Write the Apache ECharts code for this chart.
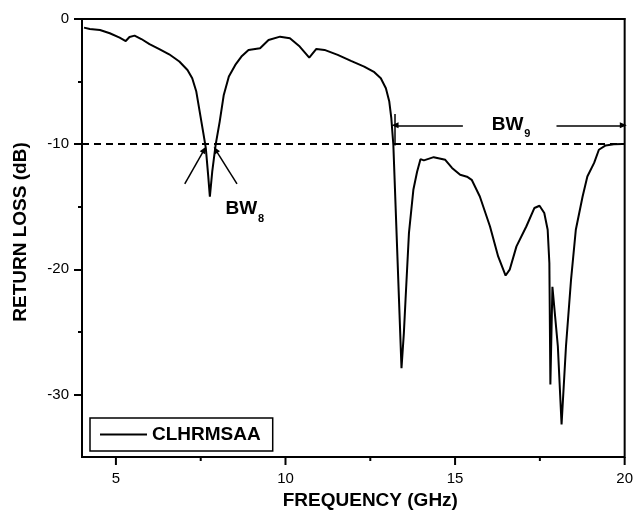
<!DOCTYPE html>
<html>
<head>
<meta charset="utf-8">
<script src="https://cdn.jsdelivr.net/npm/echarts@6/dist/echarts.min.js"></script>
<style>
  html, body { margin: 0; padding: 0; background: #fff; }
  #chart { width: 636px; height: 515px; }
</style>
</head>
<body>
<div id="chart"></div>
<script>
// measured return loss curve (GHz, dB)
const freq = [
  4.06, 4.23, 4.53, 4.82, 5.11, 5.29, 5.40, 5.55, 5.75, 5.99,
  6.28, 6.57, 6.87, 7.11, 7.25, 7.37, 7.47, 7.57, 7.65, 7.72,
  7.77, 7.84, 7.94, 8.06, 8.18, 8.33, 8.52, 8.70, 8.91, 9.25,
  9.50, 9.84, 10.13, 10.42, 10.70, 10.91, 11.15, 11.54, 11.93, 12.32,
  12.62, 12.81, 12.96, 13.06, 13.12, 13.18, 13.42, 13.49, 13.54, 13.64,
  13.77, 13.88, 13.98, 14.08, 14.37, 14.71, 14.91, 15.15, 15.35, 15.49,
  15.73, 16.03, 16.27, 16.49, 16.61, 16.81, 17.10, 17.34, 17.49, 17.63,
  17.73, 17.78, 17.81, 17.87, 18.03, 18.14, 18.27, 18.42, 18.56, 18.76,
  18.90, 19.10, 19.24, 19.44, 19.68, 19.93, 20.0
];
const returnLoss = [
  -0.69, -0.80, -0.88, -1.14, -1.49, -1.76, -1.44, -1.33, -1.60, -2.00,
  -2.40, -2.82, -3.40, -4.07, -4.73, -5.80, -7.40, -9.00, -10.30, -12.5,
  -14.2, -12.2, -10.06, -8.2, -6.07, -4.6, -3.67, -3.0, -2.47, -2.34,
  -1.68, -1.41, -1.54, -2.2, -3.09, -2.39, -2.47, -2.87, -3.35, -3.80,
  -4.25, -4.73, -5.53, -6.6, -7.93, -10.06, -27.9, -25.1, -22.4, -17.1,
  -13.65, -12.2, -11.2, -11.3, -11.04, -11.25, -11.9, -12.45, -12.6, -12.85,
  -14.18, -16.58, -18.97, -20.5, -20.03, -18.17, -16.58, -15.1, -14.92, -15.5,
  -16.84, -19.5, -29.2, -21.4, -26.15, -32.4, -26.15, -20.8, -16.84, -14.18,
  -12.58, -11.5, -10.45, -10.1, -10.0, -9.98, -9.98
];

const xTicks = [5, 10, 15, 20];
const xMinorTicks = [7.5, 12.5, 17.5];
const yTicks = [0, -10, -20, -30];
const yMinorTicks = [-5, -15, -25];
const threshold = -10;

// annotation arrows [from, to] in data units
const bw8Arrows = [
  [[7.03, -13.17], [7.60, -10.45]],
  [[8.57, -13.17], [7.94, -10.45]]
];
const bw9Arrows = [
  [[15.23, -8.5], [13.23, -8.5]],
  [[17.99, -8.5], [19.96, -8.5]]
];
const bw9Bar = [[13.21, -7.6], [13.21, -10.1]];
const bwLabels = [
  { sub: '8', at: [8.23, -15.05] },
  { sub: '9', at: [16.08, -8.3] }
];

const font = 'Liberation Sans, Arial, sans-serif';
const chart = echarts.init(document.getElementById('chart'));

const arrowLine = (seg) => [
  { coord: seg[0], symbol: 'none' },
  { coord: seg[1], symbol: 'triangle', symbolSize: [6, 7] }
];

const gridBox = { left: 82, top: 19, right: 7, bottom: 58 };
const tickStyle = { color: '#000', width: 2 };

chart.setOption({
  animation: false,
  backgroundColor: '#fff',
  grid: [
    Object.assign({ show: true, borderColor: '#000', borderWidth: 2 }, gridBox),
    Object.assign({ show: false }, gridBox)
  ],
  legend: {
    data: [{ name: 'CLHRMSAA', icon: 'rect' }],
    left: 90, top: 418,
    padding: [7, 12, 7, 10],
    borderColor: '#000', borderWidth: 1.5,
    itemWidth: 47, itemHeight: 2,
    itemStyle: { color: '#000' },
    textStyle: { fontFamily: font, fontSize: 19, fontWeight: 'bold', color: '#000' }
  },
  xAxis: [
    {
      gridIndex: 0, type: 'value', min: 4, max: 20, position: 'bottom',
      name: 'FREQUENCY (GHz)', nameLocation: 'middle', nameGap: 34,
      nameTextStyle: { fontFamily: font, fontSize: 19, fontWeight: 'bold', color: '#000', padding: [0, 0, 0, 34] },
      axisLine: { show: true, lineStyle: { color: '#000', width: 2 } },
      axisTick: { show: false },
      axisLabel: { customValues: xTicks, fontFamily: font, fontSize: 15, color: '#000', margin: 14 },
      splitLine: { show: false }
    },
    {
      gridIndex: 1, type: 'value', min: 4, max: 20, position: 'bottom',
      axisLine: { show: false }, axisTick: { show: false },
      axisLabel: { show: false }, splitLine: { show: false }
    }
  ],
  yAxis: [
    {
      gridIndex: 0, type: 'value', min: -35, max: 0, position: 'left',
      name: 'RETURN LOSS (dB)', nameLocation: 'middle', nameGap: 52,
      nameTextStyle: { fontFamily: font, fontSize: 19, fontWeight: 'bold', color: '#000', padding: [0, 0, 0, 12] },
      axisLine: { show: true, lineStyle: { color: '#000', width: 2 } },
      axisTick: { show: true, customValues: yTicks, length: 8, lineStyle: tickStyle },
      axisLabel: { customValues: yTicks, fontFamily: font, fontSize: 15, color: '#000', margin: 13 },
      splitLine: { show: false }
    },
    {
      gridIndex: 1, type: 'value', min: -35, max: 0, position: 'left',
      axisLine: { show: false },
      axisTick: { show: true, customValues: yMinorTicks, length: 4, lineStyle: tickStyle },
      axisLabel: { show: false },
      splitLine: { show: false }
    }
  ],
  series: [
    {
      name: 'CLHRMSAA',
      type: 'line',
      xAxisIndex: 0, yAxisIndex: 0,
      data: freq.map((f, i) => [f, returnLoss[i]]),
      symbol: 'none',
      showSymbol: false,
      lineStyle: { color: '#000', width: 2 },
      itemStyle: { color: '#000' },
      markLine: {
        silent: true,
        symbol: ['none', 'none'],
        label: { show: false },
        lineStyle: { color: '#000', width: 1.5, type: 'solid' },
        data: [
          { yAxis: threshold, lineStyle: { type: [7, 5], width: 2, color: '#000' } },
          ...bw8Arrows.map(arrowLine),
          ...bw9Arrows.map(arrowLine),
          [{ coord: bw9Bar[0] }, { coord: bw9Bar[1] }]
        ]
      }
    },
    {
      name: 'labels',
      type: 'scatter',
      xAxisIndex: 0, yAxisIndex: 0,
      symbolSize: 0,
      silent: true,
      itemStyle: { opacity: 1, color: '#000' },
      data: bwLabels.map((l) => ({ value: l.at, sub: l.sub })),
      label: {
        show: true,
        position: 'right',
        distance: 0,
        formatter: (p) => '{a|BW}{b|' + p.data.sub + '}',
        rich: {
          a: { fontFamily: font, fontSize: 19, fontWeight: 'bold', color: '#000', verticalAlign: 'bottom', lineHeight: 22 },
          b: { fontFamily: font, fontSize: 11, fontWeight: 'bold', color: '#000', verticalAlign: 'bottom', lineHeight: 22, padding: [0, 0, -6, 1] }
        }
      }
    }
  ]
});

// x-axis ticks (customValues ticks on the x axis land on the wrong edge, so draw them here)
const axisY = chart.convertToPixel({ yAxisIndex: 0 }, -35);
const xTickLines = [];
xTicks.forEach((v) => xTickLines.push([v, 8]));
xMinorTicks.forEach((v) => xTickLines.push([v, 4]));
chart.setOption({
  graphic: xTickLines.map(([v, len]) => {
    const px = chart.convertToPixel({ xAxisIndex: 0 }, v);
    return {
      type: 'line',
      shape: { x1: px, y1: axisY, x2: px, y2: axisY + len },
      style: { stroke: '#000', lineWidth: 2 },
      silent: true
    };
  })
});
</script>
</body>
</html>
